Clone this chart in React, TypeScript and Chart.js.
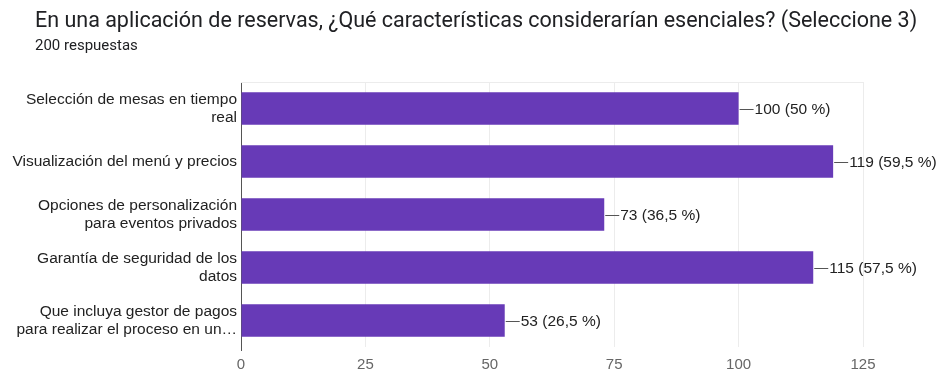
import React, { useEffect, useRef } from "react";
import { Chart, registerables } from "chart.js";

Chart.register(...registerables);

const TITLE = "En una aplicación de reservas, ¿Qué características considerarían esenciales? (Seleccione 3)";
const SUBTITLE = "200 respuestas";
const CATEGORIES: string[][] = [
  ["Selección de mesas en tiempo", "real"],
  ["Visualización del menú y precios"],
  ["Opciones de personalización", "para eventos privados"],
  ["Garantía de seguridad de los", "datos"],
  ["Que incluya gestor de pagos", "para realizar el proceso en un…"],
];
const COUNTS = [100, 119, 73, 115, 53];
const PERCENT_LABELS = ["50 %", "59,5 %", "36,5 %", "57,5 %", "26,5 %"];
const X_MAX = 125;
const X_STEP = 25;

const FONT = "'Liberation Sans', Arial, sans-serif";

const labelPlugin = {
  id: "barValueLabels",
  afterDatasetsDraw(chart: any) {
    const ctx = chart.ctx;
    const meta = chart.getDatasetMeta(0);
    ctx.save();
    ctx.font = `15.5px ${FONT}`;
    ctx.fillStyle = "#222222";
    ctx.strokeStyle = "#555555";
    ctx.lineWidth = 1;
    ctx.textBaseline = "middle";
    ctx.textAlign = "left";
    meta.data.forEach((bar: any, i: number) => {
      const x = bar.x;
      const y = bar.y;
      ctx.beginPath();
      ctx.moveTo(x + 1, Math.round(y) + 0.5);
      ctx.lineTo(x + 15, Math.round(y) + 0.5);
      ctx.stroke();
      ctx.fillText(`${COUNTS[i]} (${PERCENT_LABELS[i]})`, x + 16, y + 1);
    });
    ctx.restore();
  },
};

export default function App() {
  const ref = useRef<HTMLCanvasElement>(null);
  useEffect(() => {
    document.body.style.margin = "0";
    const chart = new Chart(ref.current!, {
      type: "bar",
      data: {
        labels: CATEGORIES,
        datasets: [
          {
            data: COUNTS,
            backgroundColor: "#673ab7",
            borderWidth: 0,
            categoryPercentage: 1,
            barPercentage: 0.61,
          },
        ],
      },
      options: {
        indexAxis: "y",
        animation: false,
        responsive: false,
        maintainAspectRatio: false,
        layout: { padding: { left: 4, right: 75, top: 82, bottom: 0 } },
        plugins: {
          legend: { display: false },
          tooltip: { enabled: false },
        },
        scales: {
          x: {
            min: 0,
            max: X_MAX,
            ticks: {
              stepSize: X_STEP,
              color: "#666666",
              font: { family: FONT, size: 15 },
              padding: 5,
            },
            grid: {
              color: (c: any) => (c.tick && c.tick.value === 0 ? "#555555" : "#ececec"),
              drawTicks: true,
              tickLength: 4,
              tickColor: (c: any) => (c.tick && c.tick.value === 0 ? "#555555" : "rgba(0,0,0,0)"),
            },
            border: { display: false },
            afterFit: (s: any) => {
              s.height = 25;
            },
          },
          y: {
            ticks: {
              color: "#222222",
              font: { family: FONT, size: 15.5, lineHeight: 1.18 },
              padding: 4,
              autoSkip: false,
            },
            grid: { display: false, drawTicks: false },
            border: { display: false },
            afterFit: (s: any) => {
              s.width = 237;
            },
          },
        },
      },
      plugins: [
        labelPlugin,
        {
          id: "topBorder",
          beforeDatasetsDraw(chart: any) {
            const { ctx, chartArea } = chart;
            ctx.save();
            ctx.strokeStyle = "#ececec";
            ctx.beginPath();
            ctx.moveTo(chartArea.left, chartArea.top + 0.5);
            ctx.lineTo(chartArea.right, chartArea.top + 0.5);
            ctx.stroke();
            ctx.restore();
          },
        },
      ],
    } as any);
    return () => chart.destroy();
  }, []);

  return (
    <div style={{ position: "relative", width: 938, height: 372, background: "#fff" }}>
      <div
        style={{
          position: "absolute",
          left: 35,
          top: 6,
          fontFamily: "Roboto, sans-serif",
          fontSize: 21.5,
          lineHeight: "28px",
          color: "#202124",
          whiteSpace: "nowrap",
        }}
      >
        {TITLE}
      </div>
      <div
        style={{
          position: "absolute",
          left: 35,
          top: 36,
          fontFamily: "Roboto, sans-serif",
          fontSize: 15,
          lineHeight: "18px",
          color: "#202124",
          whiteSpace: "nowrap",
        }}
      >
        {SUBTITLE}
      </div>
      <canvas ref={ref} width={938} height={372} style={{ display: "block" }} />
    </div>
  );
}
